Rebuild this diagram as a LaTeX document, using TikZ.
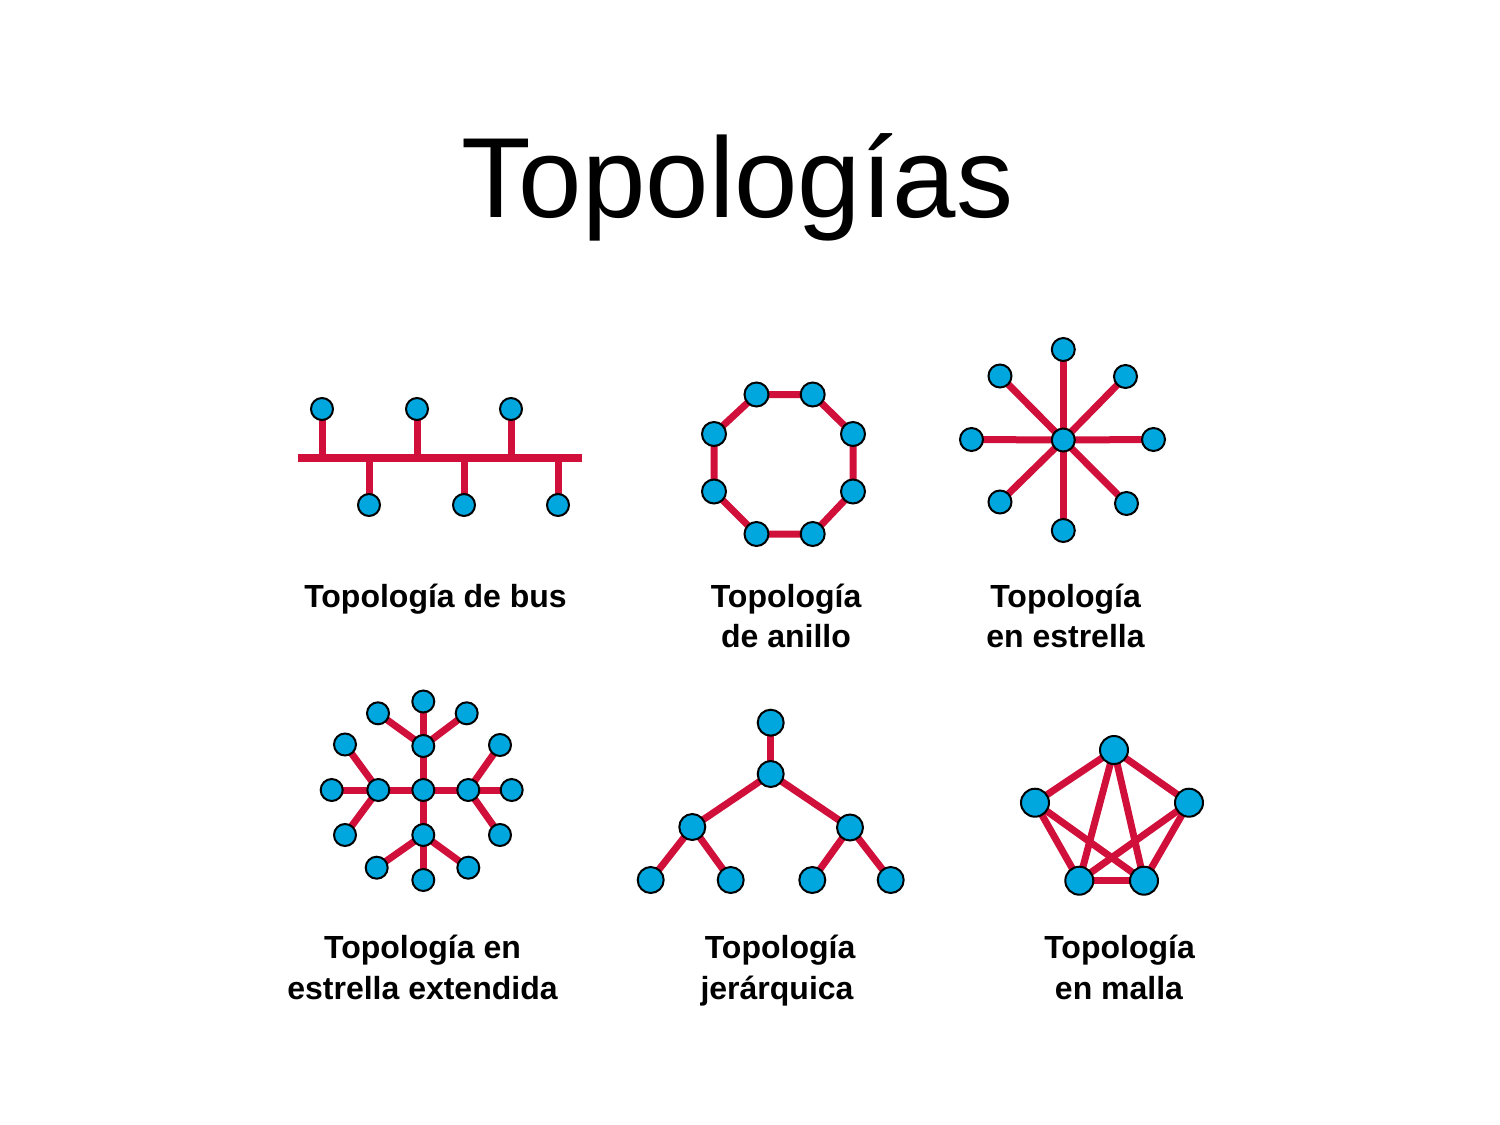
\documentclass[tikz,border=0pt]{standalone}
\usepackage{fontspec}
\setmainfont{Liberation Sans}
\usetikzlibrary{backgrounds}
\definecolor{nodeblue}{RGB}{0,166,222}
\definecolor{linkred}{RGB}{208,16,58}
\begin{document}
\begin{tikzpicture}[x=0.5pt,y=-0.5pt,
  dev/.style={circle,draw=black,line width=1pt,fill=nodeblue,inner sep=0pt,minimum size=#1},
  dev/.default=11pt,
  link/.style={draw=linkred,line width=3.5pt},
  lbl/.style={font=\fontsize{16}{20}\selectfont\bfseries,anchor=base,inner sep=0pt},
  ttl/.style={font=\fontsize{57}{68}\selectfont,anchor=base,inner sep=0pt}]
\useasboundingbox (0,0) rectangle (1500,1125);

% Title
\node[ttl] (title) at (737.5,217) {Topologías};

% ---------- Bus ----------
\coordinate (busL) at (298,458);
\coordinate (busR) at (582,458);
\node[dev] (bu1) at (322,409) {};
\node[dev] (bu2) at (417,409) {};
\node[dev] (bu3) at (511,409) {};
\node[dev] (bd1) at (369,505) {};
\node[dev] (bd2) at (464,505) {};
\node[dev] (bd3) at (558,505) {};
\node[lbl] (lbus) at (435.5,607) {Topología de bus};

% ---------- Ring ----------
\node[dev=12pt] (r1) at (756.5,394.5) {};
\node[dev=12pt] (r2) at (812.7,394.5) {};
\node[dev=12pt] (r3) at (853,434) {};
\node[dev=12pt] (r4) at (853,491.5) {};
\node[dev=12pt] (r5) at (812.7,534) {};
\node[dev=12pt] (r6) at (756.5,534) {};
\node[dev=12pt] (r7) at (714,491.5) {};
\node[dev=12pt] (r8) at (714,434) {};
\node[lbl] (lring1) at (786,607) {Topología};
\node[lbl] (lring2) at (786,647) {de anillo};

% ---------- Star ----------
\node[dev=11.5pt] (sc) at (1063.3,440) {};
\node[dev=11.5pt] (s1) at (1063.3,349.5) {};
\node[dev=11.5pt] (s2) at (1125.5,376.5) {};
\node[dev=11.5pt] (s3) at (1153.5,439.5) {};
\node[dev=11.5pt] (s4) at (1126.5,503.5) {};
\node[dev=11.5pt] (s5) at (1063.3,530.5) {};
\node[dev=11.5pt] (s6) at (1000,502) {};
\node[dev=11.5pt] (s7) at (971.5,439.5) {};
\node[dev=11.5pt] (s8) at (1000,376) {};
\node[lbl] (lstar1) at (1065.5,607) {Topología};
\node[lbl] (lstar2) at (1065.5,647) {en estrella};

% ---------- Extended star ----------
\node[dev] (ec) at (423.3,790) {};
\node[dev] (eht) at (423.3,746) {};
\node[dev] (ehb) at (423.3,835) {};
\node[dev] (ehl) at (378.3,790) {};
\node[dev] (ehr) at (468.3,790) {};
\node[dev] (et1) at (423.3,701.5) {};
\node[dev] (et2) at (378,713.3) {};
\node[dev] (et3) at (466.7,713.3) {};
\node[dev] (el1) at (345,744.5) {};
\node[dev] (el2) at (331.7,790) {};
\node[dev] (el3) at (345,835) {};
\node[dev] (er1) at (500,745) {};
\node[dev] (er2) at (511.7,790) {};
\node[dev] (er3) at (500,835) {};
\node[dev] (eb1) at (376.7,867.7) {};
\node[dev] (eb2) at (423.3,880) {};
\node[dev] (eb3) at (468.3,867.7) {};
\node[lbl] (lext1) at (422.5,958) {Topología en};
\node[lbl] (lext2) at (422.5,999) {estrella extendida};

% ---------- Hierarchical ----------
\node[dev=13pt] (h0) at (770.7,722.7) {};
\node[dev=13pt] (h1) at (770.7,774) {};
\node[dev=13pt] (h2) at (692.3,827) {};
\node[dev=13pt] (h3) at (850,827.5) {};
\node[dev=13pt] (h4) at (650.7,880) {};
\node[dev=13pt] (h5) at (730.7,880) {};
\node[dev=13pt] (h6) at (812.3,880) {};
\node[dev=13pt] (h7) at (890.7,880) {};
\node[lbl] (lhier1) at (780,958) {Topología};
\node[lbl] (lhier2) at (777,999) {jerárquica};

% ---------- Mesh ----------
\node[dev=14pt] (m1) at (1114,750) {};
\node[dev=14pt] (m2) at (1035,802.7) {};
\node[dev=14pt] (m3) at (1189,802.7) {};
\node[dev=14pt] (m4) at (1079.3,880.7) {};
\node[dev=14pt] (m5) at (1144,880.7) {};
\node[lbl] (lmesh1) at (1119.5,958) {Topología};
\node[lbl] (lmesh2) at (1119,999) {en malla};

\begin{scope}[on background layer]
  \fill[white] (0,0) rectangle (1500,1125);
  % bus
  \draw[link,line width=3.6pt] (busL) -- (busR);
  \foreach \n in {bu1,bu2,bu3,bd1,bd2,bd3}
    \draw[link] (\n.center) -- (\n.center |- busL);
  % ring
  \draw[link] (r1.center) -- (r2.center) -- (r3.center) -- (r4.center) -- (r5.center)
    -- (r6.center) -- (r7.center) -- (r8.center) -- cycle;
  % star
  \foreach \n in {s1,s2,s3,s4,s5,s6,s7,s8}
    \draw[link] (sc.center) -- (\n.center);
  % extended star
  \foreach \n in {eht,ehb,ehl,ehr}
    \draw[link] (ec.center) -- (\n.center);
  \foreach \n in {et1,et2,et3} \draw[link] (eht.center) -- (\n.center);
  \foreach \n in {el1,el2,el3} \draw[link] (ehl.center) -- (\n.center);
  \foreach \n in {er1,er2,er3} \draw[link] (ehr.center) -- (\n.center);
  \foreach \n in {eb1,eb2,eb3} \draw[link] (ehb.center) -- (\n.center);
  % hierarchical
  \draw[link] (h0.center) -- (h1.center);
  \draw[link] (h1.center) -- (h2.center);
  \draw[link] (h1.center) -- (h3.center);
  \draw[link] (h2.center) -- (h4.center);
  \draw[link] (h2.center) -- (h5.center);
  \draw[link] (h3.center) -- (h6.center);
  \draw[link] (h3.center) -- (h7.center);
  % mesh
  \draw[link] (m1.center) -- (m2.center);
  \draw[link] (m1.center) -- (m3.center);
  \draw[link] (m1.center) -- (m4.center);
  \draw[link] (m1.center) -- (m5.center);
  \draw[link] (m2.center) -- (m4.center);
  \draw[link] (m2.center) -- (m5.center);
  \draw[link] (m3.center) -- (m4.center);
  \draw[link] (m3.center) -- (m5.center);
  \draw[link] (m4.center) -- (m5.center);
\end{scope}
\end{tikzpicture}
\end{document}
